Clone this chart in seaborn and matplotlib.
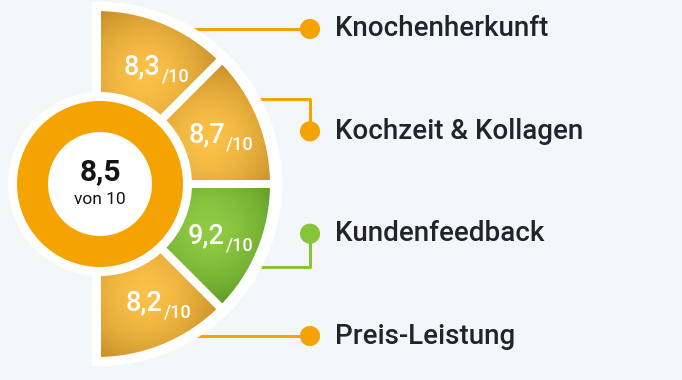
import numpy as np
import matplotlib
matplotlib.use('Agg')
import matplotlib.pyplot as plt
from matplotlib.patches import Wedge, Circle
from matplotlib.colors import to_rgb
import seaborn as sns

# data
categories = ['Knochenherkunft', 'Kochzeit & Kollagen', 'Kundenfeedback', 'Preis-Leistung']
scores = [8.3, 8.7, 9.2, 8.2]
overall = 8.5
max_score = 10

sns.set_style('white')
plt.rcParams['font.family'] = ['Roboto', 'DejaVu Sans']

BG = '#F4F7FA'
ORANGE = '#F5A300'
GREEN = '#86C43A'
TEXT = '#23232F'
GOLD = ('#FBC148', '#B07A1C')
LIME = ('#8FCB43', '#4A8618')

PX = 0.72  # points per pixel at dpi 100


def fmt(v):
    return f'{v:.1f}'.replace('.', ',')


fig = plt.figure(figsize=(6.82, 3.80), dpi=100)
fig.patch.set_facecolor(BG)
ax = fig.add_axes([0, 0, 1, 1])
ax.set_facecolor(BG)

cx, cy = 100, 184
r_out = 177
n = len(scores)
step = 180 / n
is_top = [s >= 9 for s in scores]
line_colors = [GREEN if t else ORANGE for t in is_top]

# white backdrop of the half disc
ax.add_patch(Wedge((cx, cy), 174, -90, 90, facecolor='white', edgecolor='white',
                   lw=16 * PX, zorder=2))

# gradient wedges
xs = np.arange(88, 292)
ys = np.arange(0, 380)
X, Y = np.meshgrid(xs, ys)
label_ang = [64, 22.5, -22.5, -63]
for i, s in enumerate(scores):
    top = 90 - i * step
    bot = top - step
    w = Wedge((cx - 3, cy), r_out, -top, -bot, width=r_out - 50,
              facecolor='none', edgecolor='white', lw=8 * PX, zorder=4)
    ax.add_patch(w)
    light, dark = LIME if is_top[i] else GOLD
    a = np.deg2rad(top - step / 2)
    gx, gy = cx + 118 * np.cos(a), cy - 118 * np.sin(a)
    d = np.hypot(X - gx, Y - gy)
    t = np.clip(d / 95, 0, 1) ** 1.7
    img = (np.array(to_rgb(light))[None, None, :] * (1 - t[..., None])
           + np.array(to_rgb(dark))[None, None, :] * t[..., None])
    im = ax.imshow(img, extent=(xs[0], xs[-1] + 1, 380, 0), origin='upper',
                   zorder=3, interpolation='bilinear')
    im.set_clip_path(w)

    # value label
    la = np.deg2rad(label_ang[i])
    lx, ly = cx + 132 * np.cos(la), cy - 132 * np.sin(la)
    ax.text(lx + 3, ly + 9, fmt(s), ha='right', va='baseline', color='white',
            fontsize=19.5, fontweight='medium', zorder=8)
    ax.text(lx + 4, ly + 16, f'/{max_score}', ha='left', va='baseline',
            color='white', fontsize=13, fontweight='medium', zorder=8)

# centre badge
ax.add_patch(Circle((cx, cy), 92, facecolor='white', edgecolor='none', zorder=5))
ax.add_patch(Circle((cx, cy), 83, facecolor=ORANGE, edgecolor='none', zorder=6))
ax.add_patch(Circle((cx, cy), 52, facecolor='white', edgecolor='none', zorder=7))
ax.text(cx, cy - 12, fmt(overall), ha='center', va='center', fontsize=21.5,
        fontweight='bold', color='#151515', zorder=8)
ax.text(cx, cy + 16, f'von {max_score}', ha='center', va='center', fontsize=12.5,
        color='#151515', zorder=8)

# connectors, dots and category labels
label_y = np.linspace(29, 336, n)
dot_x = 310
elbow_y = [label_y[0], cy - 85, cy + 83, label_y[-1]]
for i in range(n):
    ey = elbow_y[i]
    sx = cx + np.sqrt(178 ** 2 - (cy - ey) ** 2)
    ax.plot([sx, dot_x, dot_x], [ey, ey, label_y[i]], color=line_colors[i],
            lw=3 * PX, zorder=1, solid_capstyle='butt')
    ax.text(335, label_y[i], categories[i], ha='left', va='center',
            fontsize=20, fontweight='medium', color=TEXT, zorder=8)

sns.scatterplot(x=[dot_x] * n, y=label_y, hue=categories,
                palette=dict(zip(categories, line_colors)), s=210,
                edgecolor='none', legend=False, ax=ax, zorder=3)

ax.set_xlim(0, 682)
ax.set_ylim(380, 0)
ax.set_aspect('equal')
ax.axis('off')

fig.savefig('out.png', dpi=100, facecolor=BG)
